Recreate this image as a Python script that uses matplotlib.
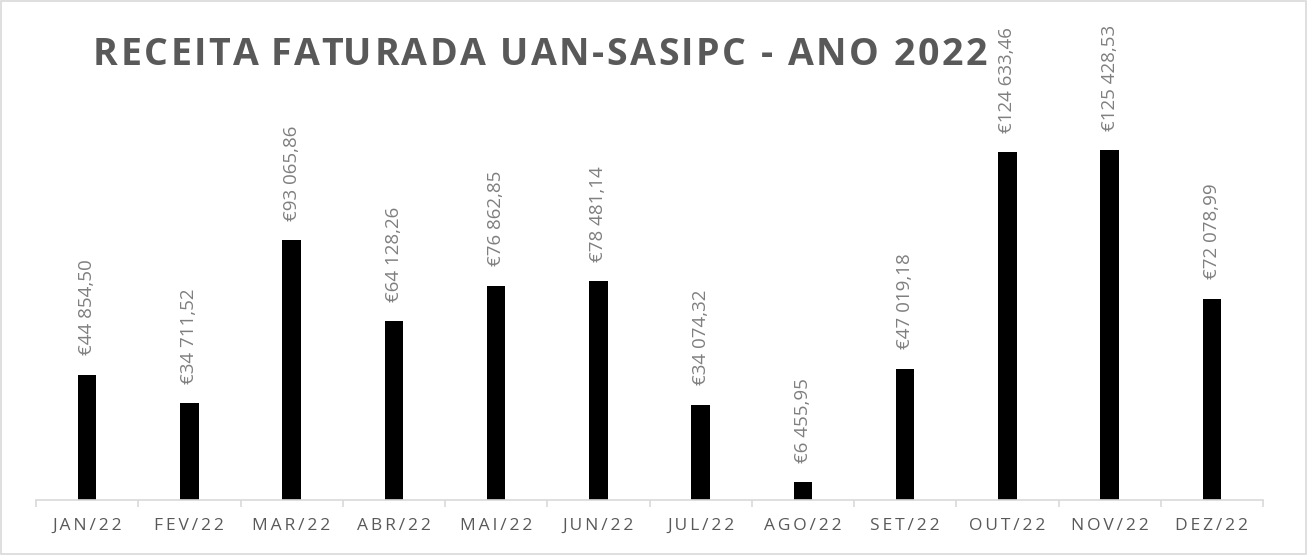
import matplotlib
matplotlib.use("Agg")
import matplotlib.pyplot as plt
from matplotlib.patches import Rectangle
from matplotlib.font_manager import FontProperties

months = ["JAN/22", "FEV/22", "MAR/22", "ABR/22", "MAI/22", "JUN/22",
          "JUL/22", "AGO/22", "SET/22", "OUT/22", "NOV/22", "DEZ/22"]
receita = [44854.50, 34711.52, 93065.86, 64128.26, 76862.85, 78481.14,
           34074.32, 6455.95, 47019.18, 124633.46, 125428.53, 72078.99]

title = "RECEITA FATURADA UAN-SASIPC - ANO 2022"

W, H = 1307, 555


def euro(v):
    s = f"{v:,.2f}"
    s = s.replace(",", " ").replace(".", ",")
    return "€" + s


def spaced(s):
    # letter spacing like the original axis labels
    return "\u2009".join(s)


def spaced_title(fig, x_px, y_px, s, gap_px, **kw):
    # draw text char by char with extra tracking (pixel units)
    renderer = fig.canvas.get_renderer()
    fp = FontProperties(family=kw.get("family"), size=kw.get("fontsize"),
                        weight=kw.get("fontweight"))
    ref_w = renderer.get_text_width_height_descent("|", fp, ismath=False)[0]
    for k, ch in enumerate(s):
        if ch == " ":
            continue
        w = renderer.get_text_width_height_descent(s[:k] + "|", fp, ismath=False)[0] - ref_w
        fig.text((x_px + w + k * gap_px) / W, 1 - y_px / H, ch, ha="left", va="baseline", **kw)


plt.rcParams['font.family'] = ['Open Sans', 'DejaVu Sans']

fig = plt.figure(figsize=(W / 100, H / 100), dpi=100)
fig.patch.set_facecolor("white")
fig.add_artist(Rectangle((0.001, 0.002), 0.998, 0.996, transform=fig.transFigure,
                         fill=False, edgecolor="#d9d9d9", lw=1.2))

ax = fig.add_axes([36 / W, 55 / H, 1227 / W, 490 / H])
x = list(range(len(months)))
ax.bar(x, receita, width=0.18, color="black")

for xi, v in zip(x, receita):
    ax.annotate(euro(v), (xi, v), xytext=(0, 14), textcoords="offset points",
                rotation=90, ha="center", va="bottom", fontsize=13.5, color="#7f7f7f")

ax.set_xlim(-0.5, len(months) - 0.5)
ax.set_ylim(0, 175600)
ax.set_yticks([])
for side in ["left", "right", "top"]:
    ax.spines[side].set_visible(False)
ax.spines["bottom"].set_color("#d9d9d9")
ax.spines["bottom"].set_linewidth(1.2)

ax.set_xticks(x)
ax.set_xticklabels([spaced(m) for m in months], fontsize=12.5, color="#595959")
ax.tick_params(axis="x", which="major", length=0, pad=13)
ax.set_xticks([i - 0.5 for i in range(len(months) + 1)], minor=True)
ax.tick_params(axis="x", which="minor", length=5, color="#d9d9d9", width=1.2)

spaced_title(fig, 93, 65, title, 2.5, family="Open Sans", fontsize=27,
             fontweight="bold", color="#595959")

fig.savefig("out.png", dpi=100)
